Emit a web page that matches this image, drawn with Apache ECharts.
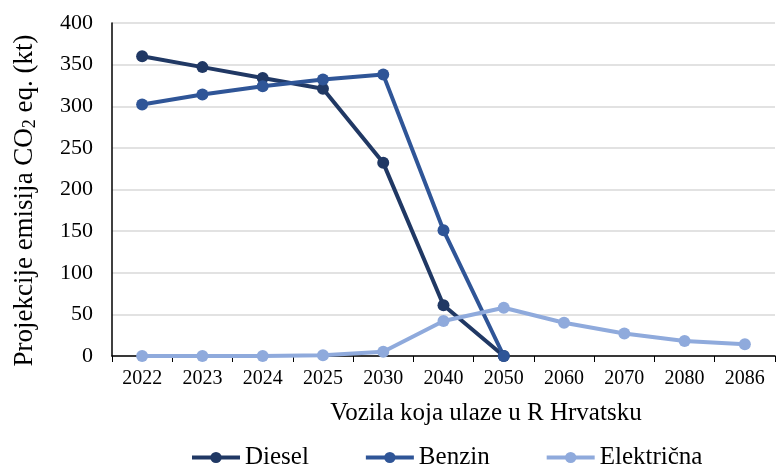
<!DOCTYPE html>
<html style="height: 100%">
<head>
<meta charset="utf-8">
<style type="text/css">
    body, html, #chart {width: 100%; height: 100%; margin: 0; overflow: hidden; background: #fff;}
</style>
</head>
<body>
<div id="chart"></div>
<script type="text/javascript" src="https://cdn.jsdelivr.net/npm/echarts@6/dist/echarts.min.js"></script>
<script type="text/javascript">
// podaci
var years = ['2022', '2023', '2024', '2025', '2030', '2040', '2050', '2060', '2070', '2080', '2086'];
var diesel = [360, 347, 334, 321, 232, 61, 0, null, null, null, null];
var benzin = [302, 314, 324, 332, 338, 151, 0, null, null, null, null];
var elektricna = [0, 0, 0, 1, 5, 42, 58, 40, 27, 18, 14];

var font = 'Liberation Serif';
var chart = echarts.init(document.getElementById('chart'));

function lineSeries(name, data, color) {
    return {
        name: name,
        type: 'line',
        data: data,
        symbol: 'circle',
        symbolSize: 12,
        lineStyle: {width: 4, color: color},
        itemStyle: {color: color},
        connectNulls: false
    };
}

var option = {
    backgroundColor: '#fff',
    animation: false,
    textStyle: {fontFamily: font},
    title: {
        text: 'Vozila koja ulaze u R Hrvatsku',
        left: 481,
        top: 396,
        textAlign: 'center',
        textStyle: {fontFamily: font, fontSize: 25, fontWeight: 'normal', color: '#000'}
    },
    legend: {
        top: 440,
        left: 185,
        itemWidth: 48,
        itemHeight: 14,
        itemGap: 55,
        lineStyle: {width: 4},
        formatter: function (name) { return '{a|' + name + '}'; },
        textStyle: {
            fontFamily: font, fontSize: 25, color: '#000',
            rich: {a: {fontFamily: font, fontSize: 25, color: '#000'}}
        },
        data: ['Diesel', 'Benzin', 'Električna']
    },
    grid: {left: 112, right: 8, top: 23, bottom: 110},
    xAxis: {
        type: 'category',
        data: years,
        boundaryGap: true,
        axisLine: {lineStyle: {color: '#000', width: 1.5}},
        axisTick: {show: true, length: 6, lineStyle: {color: '#000'}},
        axisLabel: {color: '#000', fontSize: 20, fontFamily: font, margin: 13}
    },
    yAxis: {
        type: 'value',
        min: 0,
        max: 400,
        interval: 50,
        name: '{a|Projekcije emisija CO}{s|2}{a| eq. (kt)}',
        nameLocation: 'middle',
        nameGap: 73,
        nameTextStyle: {
            padding: [0, 22, 0, 0],
            rich: {
                a: {fontFamily: font, fontSize: 27, color: '#000'},
                s: {fontFamily: font, fontSize: 18, color: '#000', verticalAlign: 'bottom', padding: [10, 0, 0, 0]}
            }
        },
        axisLine: {show: true, lineStyle: {color: '#000', width: 1.5}},
        axisTick: {show: false},
        axisLabel: {color: '#000', fontSize: 22, fontFamily: font, margin: 19},
        splitLine: {lineStyle: {color: '#d9d9d9', width: 1.5}}
    },
    series: [
        lineSeries('Diesel', diesel, '#203864'),
        lineSeries('Benzin', benzin, '#2f5597'),
        lineSeries('Električna', elektricna, '#8faadc')
    ]
};
chart.setOption(option);
</script>
</body>
</html>
